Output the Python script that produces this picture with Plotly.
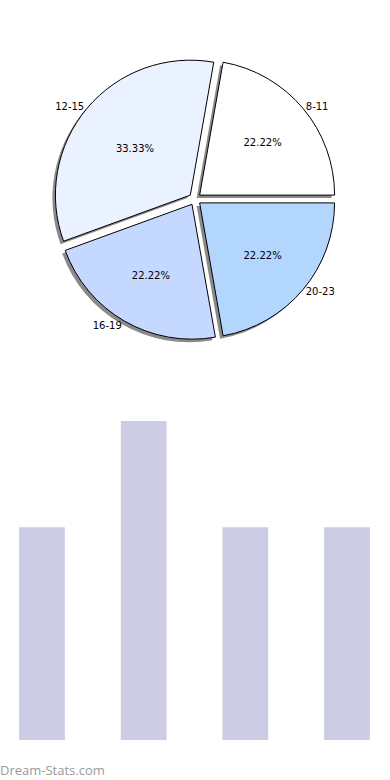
import plotly.graph_objects as go

categories = ["8-11", "12-15", "16-19", "20-23"]
counts = [2, 3, 2, 2]
pie_colors = ["#FFFFFF", "#EBF2FF", "#C5D8FF", "#B3D6FF"]
bar_color = "#CCCCE4"

W, H = 390, 780
cx, cy, half = 195, 199, 141

def dom(x0, x1, y0, y1):
    return dict(x=[x0 / W, x1 / W], y=[1 - y1 / H, 1 - y0 / H])

pull = [0.045] * 4
rot = 10
fig = go.Figure()

# shadow
sd = 3
fig.add_trace(go.Pie(
    labels=categories, values=counts, sort=False, direction="counterclockwise",
    rotation=rot, pull=pull, textinfo="none", hoverinfo="skip",
    marker=dict(colors=["#8a8a8a"] * 4, line=dict(width=0)),
    domain=dom(cx - half - sd, cx + half - sd, cy - half + sd, cy + half + sd),
    showlegend=False))

# main pie with percents inside
fig.add_trace(go.Pie(
    labels=categories, values=counts, sort=False, direction="counterclockwise",
    rotation=rot, pull=pull, textinfo="percent", textposition="inside",
    texttemplate="%{percent:.2%}", insidetextorientation="horizontal",
    textfont=dict(family="DejaVu Sans", size=10, color="black"),
    marker=dict(colors=pie_colors, line=dict(color="black", width=1)),
    domain=dom(cx - half, cx + half, cy - half, cy + half),
    showlegend=False))

# transparent overlay for outside labels
fig.add_trace(go.Pie(
    labels=categories, values=counts, sort=False, direction="counterclockwise",
    rotation=rot, pull=pull, textinfo="label", textposition="outside",
    textfont=dict(family="DejaVu Sans", size=10, color="black"),
    marker=dict(colors=["rgba(0,0,0,0)"] * 4, line=dict(width=0)),
    domain=dom(cx - half, cx + half, cy - half, cy + half),
    showlegend=False, hoverinfo="skip"))

fig.add_trace(go.Bar(
    x=categories, y=counts, marker=dict(color=bar_color, line=dict(width=0)),
    width=0.45, showlegend=False, xaxis="x", yaxis="y"))

fig.update_layout(
    width=W, height=H, margin=dict(l=0, r=0, t=0, b=0),
    paper_bgcolor="white", plot_bgcolor="white",
    xaxis=dict(domain=[0, 1], range=[-0.413, 3.423], visible=False, type="category"),
    yaxis=dict(domain=[40 / H, 359 / H], range=[0, 3], visible=False),
    annotations=[dict(text="Dream-Stats.com", x=0, y=(H - 770) / H,
                      xref="paper", yref="paper", xanchor="left", yanchor="middle",
                      showarrow=False, xshift=-2,
                      font=dict(family="Open Sans", size=13, color="#999999"))],
)

fig.write_html("out.html", config={"displayModeBar": False},
               post_script="document.body.style.margin='0';document.body.style.overflow='hidden';")
